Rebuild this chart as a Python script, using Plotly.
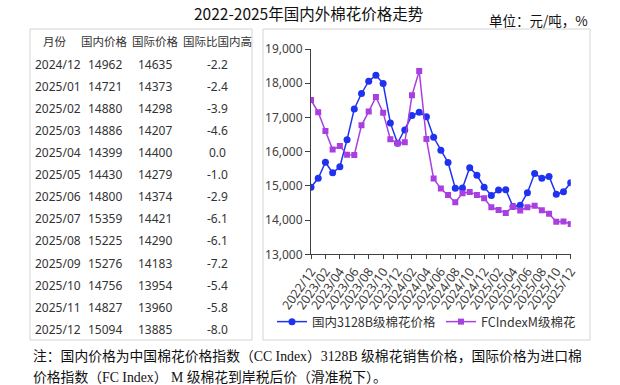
import plotly.graph_objects as go

months = ["2022/12","2023/01","2023/02","2023/03","2023/04","2023/05","2023/06","2023/07","2023/08","2023/09","2023/10","2023/11","2023/12",
          "2024/01","2024/02","2024/03","2024/04","2024/05","2024/06","2024/07","2024/08","2024/09","2024/10","2024/11","2024/12",
          "2025/01","2025/02","2025/03","2025/04","2025/05","2025/06","2025/07","2025/08","2025/09","2025/10","2025/11","2025/12"]
domestic = [14960,15220,15690,15380,15560,16350,17250,17700,18060,18230,17990,16840,16245,
            16635,17060,17150,17020,16420,16040,15680,14930,14940,15530,15310,14962,
            14721,14880,14886,14399,14430,14800,15359,15225,15276,14756,14827,15094]
international = [17510,17150,16605,16060,16166,15913,15904,16770,17170,17598,17140,16361,16245,
                 16275,17647,18357,16371,15212,14920,14735,14521,14784,14823,14735,14635,
                 14373,14298,14207,14400,14279,14374,14421,14290,14183,13954,13960,13885]
tick_labels = months[::2]
y_ticks = [13000,14000,15000,16000,17000,18000,19000]

table_header = ["月份","国内价格","国际价格","国际比国内高"]
table_months = ["2024/12","2025/01","2025/02","2025/03","2025/04","2025/05","2025/06",
                "2025/07","2025/08","2025/09","2025/10","2025/11","2025/12"]
table_domestic = ["14962","14721","14880","14886","14399","14430","14800","15359","15225","15276","14756","14827","15094"]
table_intl = ["14635","14373","14298","14207","14400","14279","14374","14421","14290","14183","13954","13960","13885"]
table_diff = ["-2.2","-2.4","-3.9","-4.6","0.0","-1.0","-2.9","-6.1","-6.1","-7.2","-5.4","-5.8","-8.0"]

title = "2022-2025年国内外棉花价格走势"
unit = "单位：元/吨，%"
note1 = "注：国内价格为中国棉花价格指数（CC Index）3128B 级棉花销售价格，国际价格为进口棉"
note2 = "价格指数（FC Index） M 级棉花到岸税后价（滑准税下）。"

W, H = 620, 385
def px(x): return x / W
def py(y): return 1 - y / H

CJK = "Noto Sans CJK SC"
NUM = "Noto Sans, Noto Sans CJK SC"

fig = go.Figure()
fig.add_trace(go.Scatter(x=months, y=domestic, name="国内3128B级棉花价格", mode="lines+markers",
                         line=dict(color="#1f32f0", width=1.5),
                         marker=dict(symbol="circle", size=7, color="#1f32f0")))
fig.add_trace(go.Scatter(x=months, y=international, name="FCIndexM级棉花", mode="lines+markers",
                         line=dict(color="#a93fe0", width=1.5),
                         marker=dict(symbol="square", size=6, color="#a93fe0")))

fig.update_layout(
    width=W, height=H, margin=dict(l=0, r=0, t=0, b=0),
    paper_bgcolor="white", plot_bgcolor="white",
    showlegend=True,
    legend=dict(orientation="h", x=px(272), y=py(322), yanchor="middle", xanchor="left",
                font=dict(family=CJK, size=12.5, color="#333333"), itemwidth=30,
                bgcolor="rgba(0,0,0,0)"),
    xaxis=dict(domain=[px(311), px(570.7)], range=[0, len(months) - 1], type="category",
               tickmode="array", tickvals=tick_labels, ticktext=tick_labels, tickangle=-55,
               showgrid=False, showline=True, linecolor="#404040", linewidth=1,
               ticks="outside", ticklen=4, tickcolor="#404040", automargin=False,
               tickfont=dict(family=NUM, size=12.5, color="#404040")),
    yaxis=dict(domain=[py(254.3), py(49)], range=[13000, 19000], tickvals=y_ticks,
               tickformat=",", showgrid=False, showline=True, linecolor="#404040", linewidth=1,
               ticks="outside", ticklen=5, tickcolor="#404040", automargin=False, zeroline=False,
               tickfont=dict(family=NUM, size=12, color="#404040")),
)

shapes = [
    dict(type="rect", xref="paper", yref="paper", x0=px(30), x1=px(252), y0=py(340), y1=py(29),
         line=dict(color="#d4d4d4", width=1)),
    dict(type="rect", xref="paper", yref="paper", x0=px(263), x1=px(590), y0=py(340), y1=py(29),
         line=dict(color="#d4d4d4", width=1)),
]
fig.update_layout(shapes=shapes)

ann = []
ann.append(dict(text=title, x=px(308), y=py(13.5), xref="paper", yref="paper", showarrow=False,
                xanchor="center", yanchor="middle", font=dict(family=CJK, size=15.5, color="#111111")))
ann.append(dict(text=unit, x=px(487), y=py(20), xref="paper", yref="paper", showarrow=False,
                xanchor="left", yanchor="middle", font=dict(family=CJK, size=13.5, color="#111111")))

col_x = [55, 105, 155, 217]
for cx, h in zip(col_x, table_header):
    ann.append(dict(text=h, x=px(cx), y=py(41), xref="paper", yref="paper", showarrow=False,
                    xanchor="center", yanchor="middle", font=dict(family=CJK, size=11.5, color="#333333")))
for i in range(len(table_months)):
    yy = py(64.3 + 22.08 * i)
    row = [table_months[i], table_domestic[i], table_intl[i], table_diff[i]]
    for j, (cx, v) in enumerate(zip(col_x, row)):
        if j == 0:
            ann.append(dict(text=v, x=px(32.5), y=yy, xref="paper", yref="paper", showarrow=False,
                            xanchor="left", yanchor="middle", font=dict(family=NUM, size=12, color="#333333")))
        else:
            ann.append(dict(text=v, x=px(cx), y=yy, xref="paper", yref="paper", showarrow=False,
                            xanchor="center", yanchor="middle", font=dict(family=NUM, size=12, color="#333333")))

ann.append(dict(text=note1, x=px(31), y=py(356), xref="paper", yref="paper", showarrow=False,
                xanchor="left", yanchor="middle", font=dict(family="Liberation Serif, " + CJK, size=13.8, color="#111111")))
ann.append(dict(text=note2, x=px(31), y=py(377), xref="paper", yref="paper", showarrow=False,
                xanchor="left", yanchor="middle", font=dict(family="Liberation Serif, " + CJK, size=13.8, color="#111111")))
fig.update_layout(annotations=ann)

fig.write_html("out.html", config={"displayModeBar": False},
               post_script="document.body.style.margin='0px';document.body.style.overflow='hidden';")
